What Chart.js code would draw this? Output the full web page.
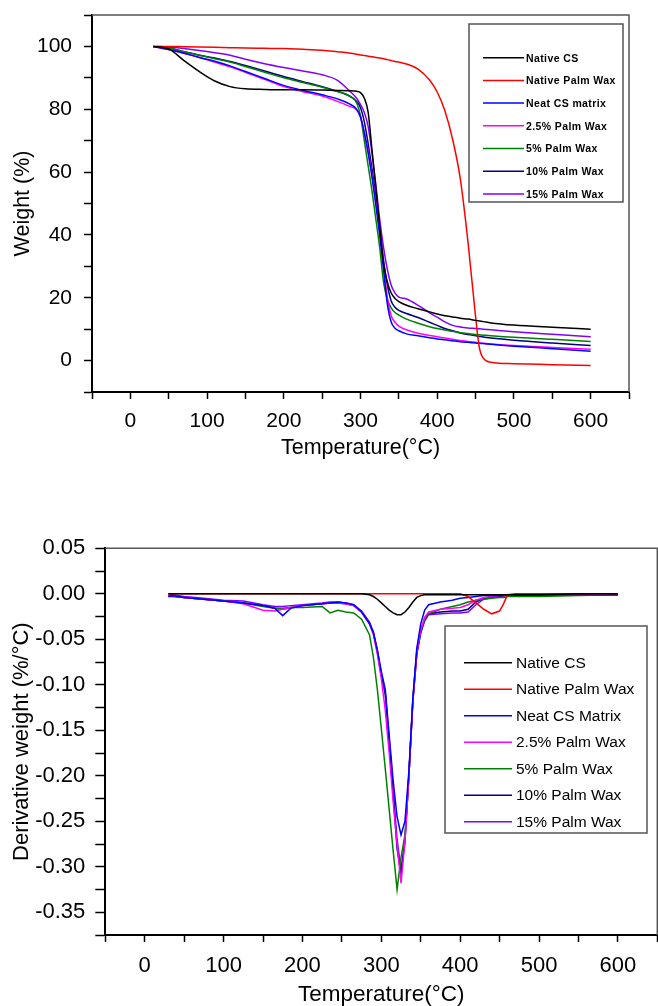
<!DOCTYPE html>
<html>
<head>
<meta charset="utf-8">
<script src="https://cdn.jsdelivr.net/npm/chart.js@4.4.1/dist/chart.umd.min.js"></script>
<style>
  body { margin: 0; background: #fff; }
  #wrap { position: relative; width: 658px; height: 1006px; overflow: hidden; }
  #tga { position: absolute; left: 0; top: 0; }
  #dtg { position: absolute; left: 0; top: 500px; }
</style>
</head>
<body>
<div id="wrap">
  <canvas id="tga" width="658" height="500"></canvas>
  <canvas id="dtg" width="658" height="506"></canvas>
</div>
<script>
// series names + colours (same for both panels)
const seriesNames = ['Native CS', 'Native Palm Wax', 'Neat CS matrix', '2.5% Palm Wax', '5% Palm Wax', '10% Palm Wax', '15% Palm Wax'];
const seriesNamesDtg = ['Native CS', 'Native Palm Wax', 'Neat CS Matrix', '2.5% Palm Wax', '5% Palm Wax', '10% Palm Wax', '15% Palm Wax'];
const seriesColors = ['#000000', '#ff0000', '#0000ff', '#ff00ff', '#008000', '#000080', '#8000ff'];

// TGA: weight (%) vs temperature (°C)
const tgaTemp = [30, 50, 70, 90, 110, 130, 150, 175, 200, 225, 250, 270, 285, 295, 300, 305, 310, 315, 320, 325, 330, 335, 340, 345, 350, 360, 375, 390, 400, 410, 420, 430, 440, 450, 455, 460, 470, 500, 550, 600];
const wNativeCS = [100, 99.2, 95.5, 92.0, 89.0, 87.2, 86.5, 86.3, 86.2, 86.2, 86.1, 86.0, 85.9, 85.7, 85.3, 83.5, 79.0, 67.0, 55.0, 43.0, 31.0, 25.0, 21.5, 19.8, 18.8, 17.6, 16.5, 15.5, 14.8, 14.3, 13.9, 13.5, 13.2, 12.8, 12.6, 12.4, 12.0, 11.3, 10.6, 10.0];
const wPalmWax = [100, 100, 99.9, 99.8, 99.7, 99.6, 99.5, 99.4, 99.3, 99.1, 98.8, 98.3, 97.9, 97.5, 97.3, 97.1, 96.9, 96.7, 96.5, 96.3, 96.1, 95.8, 95.5, 95.2, 95.0, 94.4, 92.8, 89.3, 85.5, 79.5, 70.5, 58.0, 38.0, 14.0, 4.0, 0.8, -0.5, -1.0, -1.3, -1.6];
const wNeatCS = [100, 99.0, 97.8, 96.5, 95.3, 93.8, 92.0, 89.8, 87.6, 86.0, 84.6, 83.3, 81.8, 80.0, 77.5, 72.5, 66.0, 58.5, 49.5, 40.0, 29.0, 18.0, 12.3, 10.3, 9.5, 8.5, 7.9, 7.3, 6.9, 6.6, 6.3, 6.0, 5.8, 5.6, 5.5, 5.4, 5.2, 4.6, 3.8, 3.0];
const wPalm2_5 = [100, 99.0, 97.8, 96.5, 95.0, 93.5, 91.8, 89.5, 87.2, 85.6, 84.2, 82.5, 81.0, 79.8, 77.5, 72.5, 66.5, 59.0, 50.5, 41.5, 31.0, 20.0, 14.3, 12.2, 11.0, 9.8, 8.7, 8.0, 7.6, 7.2, 6.8, 6.4, 6.1, 5.8, 5.6, 5.5, 5.3, 4.8, 4.2, 3.6];
const wPalm5 = [100, 99.5, 98.3, 97.2, 96.1, 95.0, 93.6, 91.8, 90.0, 88.5, 87.0, 85.6, 84.3, 82.0, 78.0, 70.0, 62.0, 54.0, 45.0, 36.0, 25.0, 19.5, 16.8, 15.3, 14.5, 13.2, 11.9, 10.8, 10.2, 9.7, 9.3, 8.9, 8.6, 8.3, 8.2, 8.1, 7.9, 7.4, 6.8, 6.1];
const wPalm10 = [100, 99.5, 98.3, 97.2, 96.3, 95.2, 93.9, 92.2, 90.4, 88.8, 87.2, 85.7, 84.3, 82.5, 80.5, 76.0, 69.0, 61.0, 52.0, 42.0, 32.0, 24.0, 19.0, 17.0, 16.0, 15.0, 13.7, 12.2, 11.2, 10.2, 9.5, 8.8, 8.3, 7.9, 7.7, 7.5, 7.2, 6.5, 5.6, 4.8];
const wPalm15 = [100, 99.8, 99.3, 98.7, 98.0, 97.2, 95.9, 94.5, 93.3, 92.2, 91.0, 89.2, 86.0, 83.5, 81.5, 79.0, 74.5, 66.0, 56.0, 45.0, 36.0, 29.0, 24.0, 21.5, 20.2, 19.6, 17.6, 15.2, 13.8, 12.3, 11.2, 10.7, 10.4, 10.2, 10.1, 10.0, 9.8, 9.2, 8.4, 7.6];

// DTG: derivative weight (%/°C) vs temperature (°C)
const dtgTemp = [30, 35, 50, 75, 100, 125, 150, 165, 175, 185, 200, 225, 235, 245, 255, 265, 275, 285, 290, 295, 300, 305, 310, 315, 320, 325, 330, 335, 340, 345, 350, 355, 360, 375, 390, 400, 410, 420, 430, 440, 450, 455, 460, 470, 500, 550, 600];
const dNativeCS = [0, 0, 0, 0, 0, 0, 0, 0, 0, 0, 0, 0, 0, 0, 0, 0, 0, -0.001, -0.003, -0.006, -0.010, -0.014, -0.018, -0.021, -0.023, -0.023, -0.020, -0.015, -0.009, -0.004, -0.002, -0.001, -0.001, -0.001, -0.001, -0.001, -0.001, -0.001, -0.001, -0.001, -0.001, -0.001, -0.001, -0.001, -0.001, 0, 0];
const dPalmWax = [0, 0, 0, 0, 0, 0, 0, 0, 0, 0, 0, 0, 0, 0, 0, 0, 0, 0, 0, 0, 0, 0, 0, 0, 0, 0, 0, 0, 0, 0, 0, 0, 0, 0, 0, 0, -0.003, -0.010, -0.017, -0.022, -0.019, -0.011, -0.001, 0, 0, 0, 0];
const dNeatCS = [-0.003, -0.002, -0.004, -0.006, -0.008, -0.010, -0.013, -0.016, -0.024, -0.016, -0.013, -0.011, -0.010, -0.009, -0.010, -0.012, -0.020, -0.033, -0.043, -0.062, -0.085, -0.105, -0.155, -0.205, -0.245, -0.265, -0.250, -0.195, -0.115, -0.060, -0.033, -0.018, -0.012, -0.009, -0.007, -0.005, -0.004, -0.003, -0.002, -0.002, -0.002, -0.001, -0.001, -0.001, -0.001, -0.001, -0.001];
const dPalm2_5 = [-0.002, -0.002, -0.004, -0.006, -0.008, -0.011, -0.018, -0.019, -0.017, -0.015, -0.013, -0.011, -0.010, -0.010, -0.011, -0.013, -0.020, -0.033, -0.045, -0.066, -0.093, -0.128, -0.175, -0.228, -0.275, -0.318, -0.272, -0.200, -0.118, -0.065, -0.040, -0.026, -0.020, -0.017, -0.016, -0.015, -0.012, -0.007, -0.004, -0.003, -0.002, -0.002, -0.002, -0.001, -0.001, -0.001, -0.001];
const dPalm5 = [-0.002, -0.002, -0.004, -0.006, -0.008, -0.010, -0.014, -0.016, -0.016, -0.015, -0.015, -0.014, -0.021, -0.018, -0.020, -0.021, -0.028, -0.045, -0.070, -0.105, -0.148, -0.192, -0.237, -0.282, -0.325, -0.290, -0.265, -0.198, -0.116, -0.062, -0.040, -0.028, -0.022, -0.017, -0.014, -0.012, -0.009, -0.007, -0.006, -0.005, -0.004, -0.004, -0.003, -0.003, -0.003, -0.002, -0.001];
const dPalm10 = [-0.003, -0.003, -0.004, -0.006, -0.008, -0.010, -0.013, -0.016, -0.017, -0.015, -0.013, -0.011, -0.010, -0.010, -0.011, -0.013, -0.020, -0.032, -0.043, -0.064, -0.090, -0.110, -0.165, -0.220, -0.280, -0.308, -0.272, -0.200, -0.118, -0.066, -0.042, -0.028, -0.022, -0.020, -0.019, -0.019, -0.017, -0.009, -0.005, -0.003, -0.003, -0.002, -0.002, -0.002, -0.001, -0.001, -0.001];
const dPalm15 = [-0.001, -0.001, -0.003, -0.005, -0.007, -0.008, -0.012, -0.014, -0.014, -0.013, -0.012, -0.010, -0.009, -0.009, -0.010, -0.012, -0.019, -0.031, -0.042, -0.062, -0.088, -0.108, -0.160, -0.215, -0.270, -0.303, -0.270, -0.200, -0.118, -0.066, -0.043, -0.030, -0.023, -0.022, -0.021, -0.021, -0.020, -0.012, -0.006, -0.004, -0.003, -0.003, -0.002, -0.002, -0.002, -0.001, -0.001];

const FONT = 'Arial, "Liberation Sans", sans-serif';

const toPts = (xs, ys) => xs.map((x, i) => ({ x: x, y: ys[i] }));

// draws the grey top/right frame lines and the boxed legend
const framePlugin = {
  id: 'frameBox',
  afterDraw(chart, args, opts) {
    const { ctx, chartArea: a } = chart;
    ctx.save();
    ctx.strokeStyle = '#555';
    ctx.lineWidth = 1.5;
    ctx.beginPath();
    ctx.moveTo(a.left, a.top);
    ctx.lineTo(a.right, a.top);
    ctx.lineTo(a.right, a.bottom);
    ctx.stroke();

    const lg = opts.legend;
    ctx.strokeRect(lg.x, lg.y, lg.w, lg.h);
    ctx.font = lg.font;
    if (lg.spacing) ctx.letterSpacing = lg.spacing;
    ctx.textBaseline = 'middle';
    ctx.fillStyle = '#000';
    chart.data.datasets.forEach((ds, i) => {
      const y = lg.row0 + i * lg.gap;
      ctx.strokeStyle = ds.borderColor;
      ctx.lineWidth = 1.5;
      ctx.beginPath();
      ctx.moveTo(lg.l1, y);
      ctx.lineTo(lg.l2, y);
      ctx.stroke();
      ctx.fillText(ds.label, lg.tx, y + 1);
    });
    ctx.restore();
  }
};

function makeSets(names, xs, ys, smooth) {
  return names.map((n, i) => ({
    label: n,
    data: toPts(xs, ys[i]),
    borderColor: seriesColors[i],
    borderWidth: 1.5,
    pointRadius: 0,
    fill: false,
    tension: 0,
    cubicInterpolationMode: smooth ? 'monotone' : 'default'
  }));
}

// kill the label overhang padding so the plot area sits where the layout says
function noPad(s) {
  s.paddingTop = 0; s.paddingBottom = 0; s.paddingLeft = 0; s.paddingRight = 0;
}

function xAxis(fontSize, tl, height, pad) {
  return {
    type: 'linear', min: -50, max: 650,
    ticks: {
      stepSize: 50, autoSkip: false, maxRotation: 0, color: '#000', padding: pad,
      font: { family: FONT, size: fontSize },
      callback: v => (v % 100 === 0 && v >= 0 && v <= 600) ? String(v) : ''
    },
    grid: { drawOnChartArea: false, drawTicks: true, tickLength: tl, tickColor: '#000', tickWidth: 1.5 },
    border: { color: '#000', width: 2 },
    title: { display: true, text: 'Temperature(°C)', color: '#000', padding: 0, font: { family: FONT, size: fontSize + 0.5, lineHeight: 1 } },
    afterFit: s => { s.height = height; noPad(s); }
  };
}

// top panel: TGA
new Chart(document.getElementById('tga'), {
  type: 'line',
  data: {
    datasets: makeSets(seriesNames, tgaTemp, [wNativeCS, wPalmWax, wNeatCS, wPalm2_5, wPalm5, wPalm10, wPalm15], true)
  },
  options: {
    responsive: false, animation: false, devicePixelRatio: 1,
    layout: { padding: { left: 12.5, top: 15, right: 29, bottom: 41 } },
    scales: {
      x: xAxis(21, 7, 67, 10),
      y: {
        type: 'linear', min: -10, max: 110,
        ticks: {
          stepSize: 10, autoSkip: false, color: '#000', padding: 12,
          font: { family: FONT, size: 21 },
          callback: v => (v % 20 === 0 && v >= 0 && v <= 100) ? String(v) : ''
        },
        grid: { drawOnChartArea: false, drawTicks: true, tickLength: 8, tickColor: '#000', tickWidth: 1.5 },
        border: { color: '#000', width: 2 },
        title: { display: true, text: 'Weight (%)', color: '#000', padding: 0, font: { family: FONT, size: 21.5, lineHeight: 1 } },
        afterFit: s => { s.width = 79.5; noPad(s); }
      }
    },
    plugins: {
      legend: { display: false },
      tooltip: { enabled: false },
      frameBox: {
        legend: { x: 469, y: 24, w: 154, h: 178, l1: 483, l2: 524, tx: 526, row0: 57.7, gap: 22.7, font: 'bold 10.5px ' + FONT, spacing: '0.4px' }
      }
    }
  },
  plugins: [framePlugin]
});

// bottom panel: DTG
new Chart(document.getElementById('dtg'), {
  type: 'line',
  data: {
    datasets: makeSets(seriesNamesDtg, dtgTemp, [dNativeCS, dPalmWax, dNeatCS, dPalm2_5, dPalm5, dPalm10, dPalm15], false)
  },
  options: {
    responsive: false, animation: false, devicePixelRatio: 1,
    layout: { padding: { left: 10.7, top: 48.3, right: 0.7, bottom: 0 } },
    scales: {
      x: xAxis(22, 7, 71, 11),
      y: {
        type: 'linear', min: -0.375, max: 0.05,
        ticks: {
          stepSize: 0.025, autoSkip: false, color: '#000', padding: 10,
          font: { family: FONT, size: 22 },
          callback: v => {
            const k = Math.round(v / 0.025);
            if (k % 2 !== 0) return '';
            const s = (k * 0.025).toFixed(2);
            return s === '-0.00' ? '0.00' : s;
          }
        },
        grid: { drawOnChartArea: false, drawTicks: true, tickLength: 10, tickColor: '#000', tickWidth: 1.5 },
        border: { color: '#000', width: 2 },
        title: { display: true, text: 'Derivative weight (%/°C)', color: '#000', padding: 0, font: { family: FONT, size: 22, lineHeight: 1 } },
        afterFit: s => { s.width = 94.6; noPad(s); }
      }
    },
    plugins: {
      legend: { display: false },
      tooltip: { enabled: false },
      frameBox: {
        legend: { x: 445, y: 126, w: 202, h: 207, l1: 464, l2: 512, tx: 516, row0: 162.7, gap: 26.5, font: '15.5px ' + FONT }
      }
    }
  },
  plugins: [framePlugin]
});
</script>
</body>
</html>
